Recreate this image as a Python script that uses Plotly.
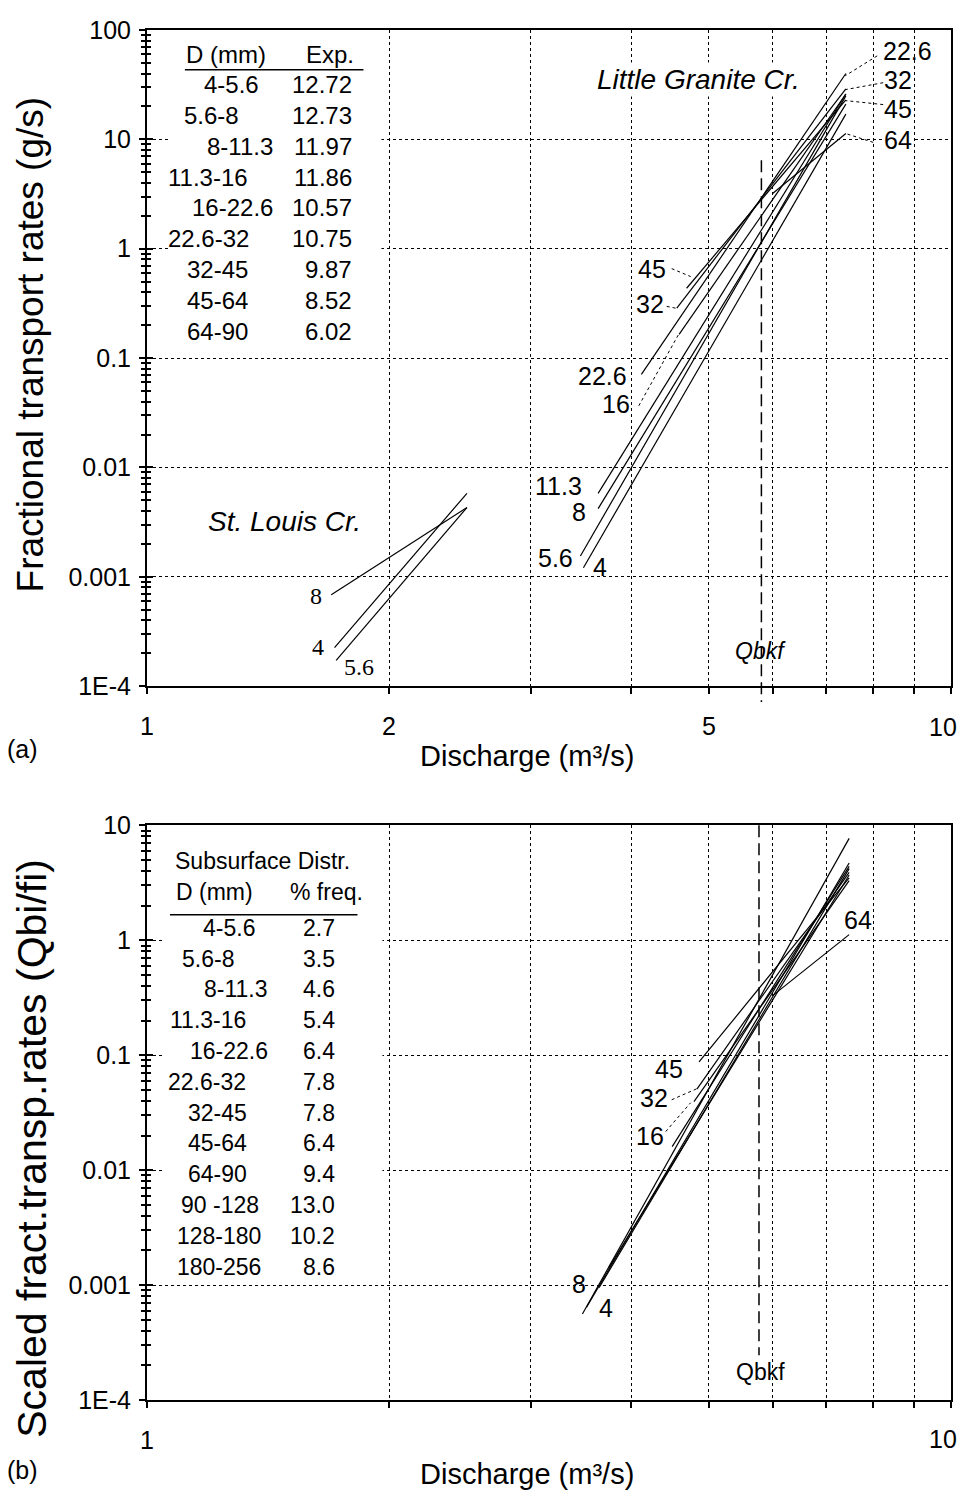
import plotly.graph_objects as go

# ---------------- data ----------------
# Panel (a): Little Granite Cr. fractional transport-rate fits
LG_SIZES = ["4", "5.6", "8", "11.3", "16", "22.6", "32", "45", "64"]
LG_Q_START = [3.49, 3.46, 3.64, 3.64, 4.59, 4.12, 4.56, 4.69, 6.0]
LG_R_START = [0.00121, 0.00155, 0.0042, 0.0058, 0.165, 0.071, 0.287, 0.435, 3.2]
LG_Q_END = [7.4, 7.4, 7.4, 7.4, 7.4, 7.4, 7.4, 7.4, 7.4]
LG_R_END = [17, 25, 21, 26, 26, 40, 29, 23, 11.3]

# Panel (a): St. Louis Cr.
SL_SIZES = ["8", "4", "5.6"]
SL_Q_START = [1.695, 1.711, 1.719]
SL_R_START = [0.000686, 0.000225, 0.000172]
SL_Q_END = [2.5, 2.5, 2.5]
SL_R_END = [0.0043, 0.0058, 0.0043]

# Panel (b): scaled fractional transport rates, Little Granite Cr.
SB_SIZES = ["4", "5.6", "8", "11.3", "16", "22.6", "32", "45", "64"]
SB_Q_START = [3.48, 3.52, 3.65, 3.75, 4.79, 4.5, 4.83, 4.86, 6.0]
SB_R_START = [0.00056, 0.00064, 0.00095, 0.0014, 0.0394, 0.016, 0.0507, 0.0873, 0.33]
SB_Q_END = [7.47, 7.47, 7.47, 7.47, 7.47, 7.47, 7.47, 7.47, 7.47]
SB_R_END = [7.7, 4.7, 4.2, 3.7, 3.3, 4.4, 3.9, 3.5, 1.12]

QBKF_A = 5.81
QBKF_B = 5.77

# tables
TAB_A_D = ["4-5.6", "5.6-8", "8-11.3", "11.3-16", "16-22.6", "22.6-32", "32-45", "45-64", "64-90"]
TAB_A_EXP = [12.72, 12.73, 11.97, 11.86, 10.57, 10.75, 9.87, 8.52, 6.02]
TAB_B_D = ["4-5.6", "5.6-8", "8-11.3", "11.3-16", "16-22.6", "22.6-32", "32-45", "45-64",
           "64-90", "90 -128", "128-180", "180-256"]
TAB_B_FREQ = [2.7, 3.5, 4.6, 5.4, 6.4, 7.8, 7.8, 6.4, 9.4, 13.0, 10.2, 8.6]

X_TICKS = [1, 2, 3, 4, 5, 6, 7, 8, 9, 10]
X_TEXT_A = ["1", "2", "", "", "5", "", "", "", "", "10"]
X_TEXT_B = ["1", "", "", "", "", "", "", "", "", "10"]
Y_TICKS_A = [1e-4, 1e-3, 1e-2, 1e-1, 1, 10, 100]
Y_TEXT_A = ["1E-4", "0.001", "0.01", "0.1", "1", "10", "100"]
Y_TICKS_B = [1e-4, 1e-3, 1e-2, 1e-1, 1, 10]
Y_TEXT_B = ["1E-4", "0.001", "0.01", "0.1", "1", "10"]

# ---------------- layout helpers ----------------
# the page body has an 8px margin, so the figure is placed at (8, 8)
OFF = 8
W, H = 969 - 2 * OFF, 1501 - 2 * OFF
ML, MR, MT, MB = 147 - OFF, 8, 22 - OFF, 93
PW, PH = W - ML - MR, H - MT - MB


def px(xp):
    return (xp - OFF - ML) / PW


def py(yp):
    return (H - MB - (yp - OFF)) / PH


FONT = "Arial, Liberation Sans, sans-serif"
SERIF = "Times New Roman, Liberation Serif, serif"
LINE = dict(color="black", width=1.2)
TICKFONT = 25

fig = go.Figure()

for i in range(len(LG_SIZES)):
    fig.add_trace(go.Scatter(x=[LG_Q_START[i], LG_Q_END[i]], y=[LG_R_START[i], LG_R_END[i]],
                             mode="lines", line=LINE, xaxis="x", yaxis="y",
                             showlegend=False, hoverinfo="skip"))
for i in range(len(SL_SIZES)):
    fig.add_trace(go.Scatter(x=[SL_Q_START[i], SL_Q_END[i]], y=[SL_R_START[i], SL_R_END[i]],
                             mode="lines", line=LINE, xaxis="x", yaxis="y",
                             showlegend=False, hoverinfo="skip"))
for i in range(len(SB_SIZES)):
    fig.add_trace(go.Scatter(x=[SB_Q_START[i], SB_Q_END[i]], y=[SB_R_START[i], SB_R_END[i]],
                             mode="lines", line=LINE, xaxis="x2", yaxis="y2",
                             showlegend=False, hoverinfo="skip"))
# invisible anchors for the overlay (inside-tick) axes
fig.add_trace(go.Scatter(x=[2], y=[1], mode="markers", marker=dict(size=1, opacity=0),
                         xaxis="x", yaxis="y3", showlegend=False, hoverinfo="skip"))
fig.add_trace(go.Scatter(x=[2], y=[1], mode="markers", marker=dict(size=1, opacity=0),
                         xaxis="x2", yaxis="y4", showlegend=False, hoverinfo="skip"))

minor_vals = [k * 10 ** n for n in range(-4, 2) for k in range(2, 10)]

axis_common = dict(type="log", showline=True, linecolor="black", linewidth=2, mirror=True,
                   showgrid=True, gridcolor="black", griddash="dot", gridwidth=1,
                   ticks="outside", tickcolor="black", ticklen=6, tickwidth=1.5,
                   tickfont=dict(family=FONT, size=TICKFONT, color="black"), zeroline=False)

overlay_common = dict(type="log", showline=False, showgrid=False, zeroline=False,
                      showticklabels=False, ticks="inside", ticklen=6, tickwidth=1.5,
                      tickcolor="black", side="left", tickmode="array")

# the last x tick label sits at the very edge of the figure: it is drawn as an annotation below
fig.update_layout(
    width=W, height=H, margin=dict(l=ML, r=MR, t=MT, b=MB),
    paper_bgcolor="white", plot_bgcolor="white", showlegend=False,
    xaxis=dict(axis_common, range=[0, 1], domain=[0, 1], anchor="y",
               tickmode="array", tickvals=X_TICKS, ticktext=X_TEXT_A[:-1] + [""], ticklabelstandoff=11),
    yaxis=dict(axis_common, range=[-4, 2], domain=[py(682), 1], anchor="x",
               tickmode="array", tickvals=Y_TICKS_A, ticktext=Y_TEXT_A, ticklabelstandoff=3,
               minor=dict(ticks="outside", ticklen=4, tickcolor="black", tickvals=minor_vals, showgrid=False)),
    yaxis3=dict(overlay_common, range=[-4, 2], overlaying="y", anchor="x", tickvals=Y_TICKS_A,
                minor=dict(ticks="inside", ticklen=4, tickcolor="black", tickvals=minor_vals, showgrid=False)),
    xaxis2=dict(axis_common, range=[0, 1], domain=[0, 1], anchor="y2",
                tickmode="array", tickvals=X_TICKS, ticktext=X_TEXT_B[:-1] + [""], ticklabelstandoff=11),
    yaxis2=dict(axis_common, range=[-4, 1], domain=[0, py(822)], anchor="x2",
                tickmode="array", tickvals=Y_TICKS_B, ticktext=Y_TEXT_B, ticklabelstandoff=3,
                minor=dict(ticks="outside", ticklen=4, tickcolor="black", tickvals=minor_vals, showgrid=False)),
    yaxis4=dict(overlay_common, range=[-4, 1], overlaying="y2", anchor="x2", tickvals=Y_TICKS_B,
                minor=dict(ticks="inside", ticklen=4, tickcolor="black", tickvals=minor_vals, showgrid=False)),
)

shapes = []
ann = []


def text(x, y, s, size=22, xanchor="center", italic=False, family=FONT, bg=None):
    t = "<i>%s</i>" % s if italic else s
    d = dict(x=px(x), y=py(y), xref="paper", yref="paper", text=t, showarrow=False,
             xanchor=xanchor, yanchor="middle", font=dict(family=family, size=size, color="black"))
    if bg:
        d["bgcolor"] = bg
    ann.append(d)


def leader(x0, y0, x1, y1):
    shapes.append(dict(type="line", xref="paper", yref="paper", x0=px(x0), y0=py(y0),
                       x1=px(x1), y1=py(y1), line=dict(color="black", width=1, dash="dot")))


# edge tick labels "10"
text(961, 723, X_TEXT_A[-1], TICKFONT, xanchor="right")
text(961, 1439, X_TEXT_B[-1], TICKFONT, xanchor="right")

# white boxes behind tables (cover grid lines)
shapes.append(dict(type="rect", xref="paper", yref="paper", x0=px(168), x1=px(382), y0=py(340), y1=py(30),
                   fillcolor="white", line=dict(width=0), layer="above"))
shapes.append(dict(type="rect", xref="paper", yref="paper", x0=px(163), x1=px(383), y0=py(1278), y1=py(840),
                   fillcolor="white", line=dict(width=0), layer="above"))

# Qbkf dashed lines
shapes.append(dict(type="line", xref="x", yref="paper", x0=QBKF_A, x1=QBKF_A, y0=py(153), y1=py(698),
                   line=dict(color="black", width=1.5, dash="12px,6px")))
shapes.append(dict(type="line", xref="x2", yref="paper", x0=QBKF_B, x1=QBKF_B, y0=py(822), y1=py(1355),
                   line=dict(color="black", width=1.5, dash="12px,6px")))

# table (a)
text(226, 47, "D (mm)", 24)
text(330, 47, "Exp.", 24)
shapes.append(dict(type="line", xref="paper", yref="paper", x0=px(185), x1=px(364), y0=py(62), y1=py(62),
                   line=dict(color="black", width=1.5)))
A_DX = [232, 212, 240, 208, 233, 209, 218, 218, 218]
for i, (d, e) in enumerate(zip(TAB_A_D, TAB_A_EXP)):
    yy = 77 + 31 * i
    text(A_DX[i], yy, d, 24)
    text(355, yy, "%.2f" % e, 24, xanchor="right")

# table (b)
text(263, 858, "Subsurface Distr.", 23)
text(215, 889, "D (mm)", 23)
text(327, 889, "% freq.", 23)
shapes.append(dict(type="line", xref="paper", yref="paper", x0=px(170), x1=px(358), y0=py(912), y1=py(912),
                   line=dict(color="black", width=1.5)))
B_DX = [229, 208, 236, 208, 229, 207, 218, 218, 218, 220, 219, 219]
for i, (d, f) in enumerate(zip(TAB_B_D, TAB_B_FREQ)):
    yy = 925 + 31 * i
    text(B_DX[i], yy, d, 23)
    text(337, yy, "%.1f" % f, 23, xanchor="right")

# panel (a) labels
text(700, 72, "Little Granite Cr.", 28, italic=True, bg="white")
text(285, 516, "St. Louis Cr.", 28, italic=True)
text(762, 647, "Qbkf", 23, italic=True)
text(909, 43, "22.6", 25)
text(900, 72, "32", 25)
text(900, 101, "45", 25)
text(900, 133, "64", 25, bg="white")
leader(879, 48, 847, 68)
leader(885, 75, 847, 82)
leader(885, 97, 847, 93)
leader(875, 135, 847, 126)
text(653, 262, "45", 25)
text(651, 298, "32", 25)
text(604, 370, "22.6", 25)
text(617, 398, "16", 25)
leader(673, 262, 692, 270)
leader(668, 300, 678, 302)
leader(640, 400, 680, 328)
text(560, 481, "11.3", 25)
text(580, 507, "8", 25)
text(557, 553, "5.6", 25)
text(601, 562, "4", 25)
text(316, 591, "8", 24, family=SERIF)
text(318, 643, "4", 24, family=SERIF)
text(360, 663, "5.6", 24, family=SERIF)

# panel (b) labels
text(860, 917, "64", 25)
text(670, 1067, "45", 25)
text(655, 1096, "32", 25)
text(651, 1134, "16", 25)
leader(673, 1098, 698, 1087)
leader(667, 1130, 692, 1101)
text(580, 1283, "8", 25)
text(607, 1307, "4", 25)
text(762, 1372, "Qbkf", 23)

# axis titles and panel letters
text(528, 752, "Discharge (m³/s)", 29)
text(528, 1474, "Discharge (m³/s)", 29)
text(22, 745, "(a)", 25)
text(22, 1470, "(b)", 25)
ann.append(dict(x=px(30), y=py(338), xref="paper", yref="paper", text="Fractional transport rates (g/s)",
                textangle=-90, showarrow=False, xanchor="center", yanchor="middle",
                font=dict(family=FONT, size=37, color="black")))
ann.append(dict(x=px(32), y=py(1147), xref="paper", yref="paper", text="Scaled fract.transp.rates (Qbi/fi)",
                textangle=-90, showarrow=False, xanchor="center", yanchor="middle",
                font=dict(family=FONT, size=41, color="black")))

fig.update_layout(shapes=shapes, annotations=ann)
fig.write_html("out.html", config={"displayModeBar": False})
